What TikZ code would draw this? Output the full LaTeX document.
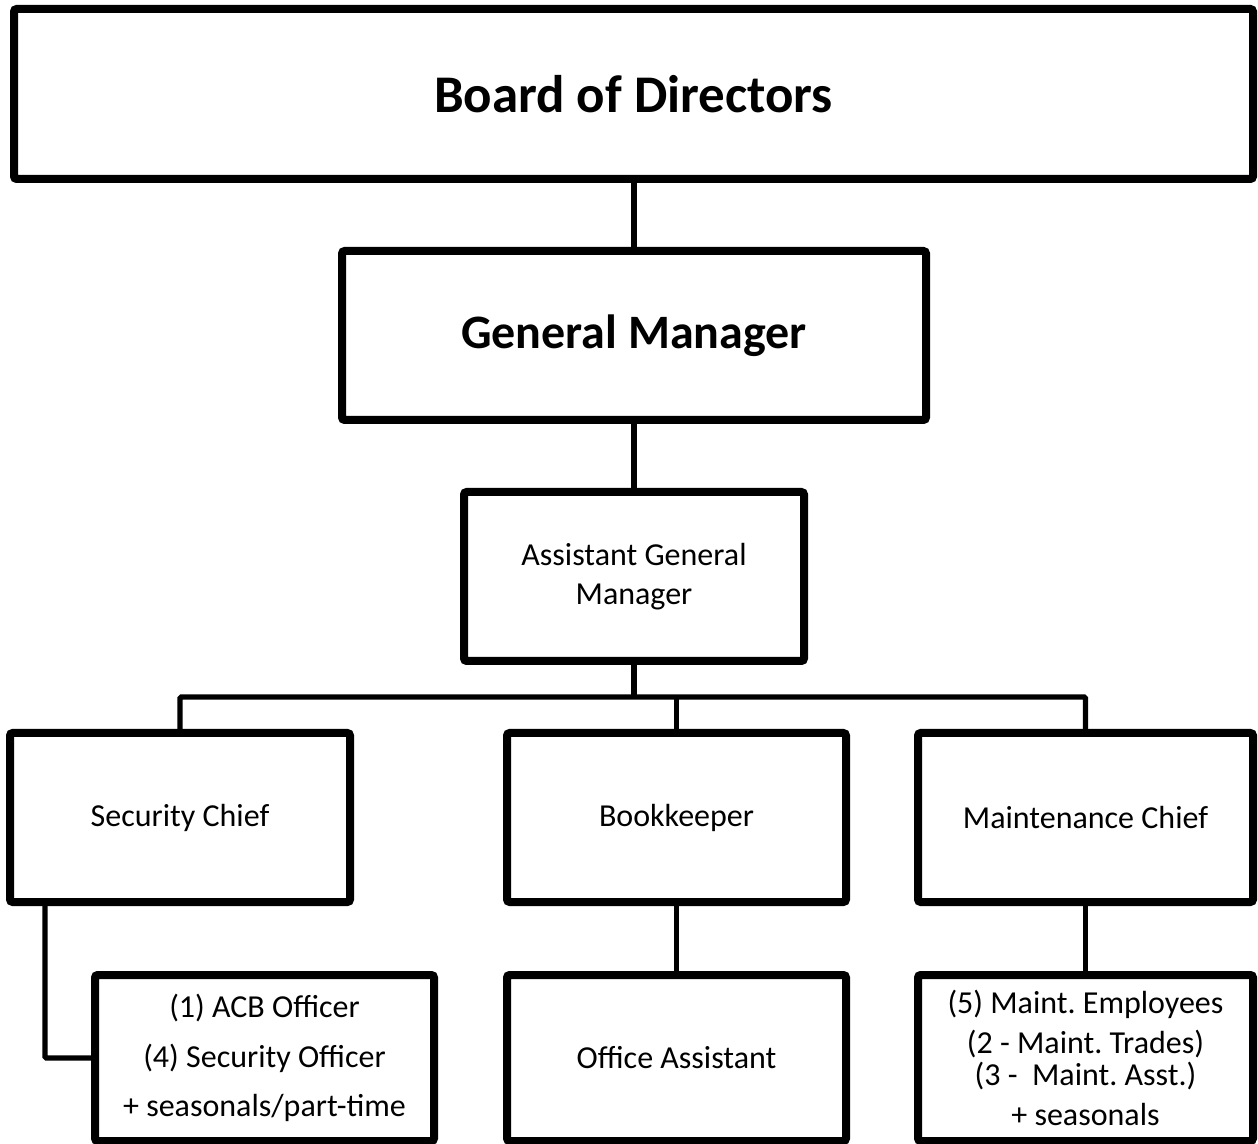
\documentclass[tikz,border=0pt]{standalone}
\usepackage{fontspec}
\setmainfont{Carlito}
\usetikzlibrary{shadows}
\frenchspacing
\tikzset{every picture/.style={line width=0.75pt}}
\tikzset{
  orgbox/.style={draw, line width=6pt, rounded corners=2pt, fill=white, align=center, inner sep=0pt,
    font=\fontsize{24}{29}\selectfont,
    drop shadow={shadow xshift=1pt, shadow yshift=-2.5pt, opacity=0.18}},
  link/.style={line width=4pt, rounded corners=1pt}
}

\begin{document}
\begin{tikzpicture}[x=0.75pt,y=0.75pt,yscale=-1,xscale=1]
\useasboundingbox (0,0) rectangle (1258,1144);

%Shape: Rectangle [id:board]
\node [orgbox, minimum width=929.25pt, minimum height=127.5pt, font=\bfseries\fontsize{39.7}{48}\selectfont] (bod) at (633.5,94) {Board of Directors};
%Shape: Rectangle [id:gm]
\node [orgbox, minimum width=438pt, minimum height=126.75pt, font=\bfseries\fontsize{36}{43}\selectfont] (gm) at (634,335.5) {General Manager};
%Shape: Rectangle [id:agm]
\node [orgbox, minimum width=255pt, minimum height=126.75pt] (agm) at (634,576.5) {Assistant General\\Manager};

%Shape: Rectangle [id:sec]
\node [orgbox, minimum width=255pt, minimum height=126.75pt] (sec) at (180,817.5) {Security Chief};
%Shape: Rectangle [id:book]
\node [orgbox, minimum width=254.25pt, minimum height=126.75pt] (book) at (676.5,817.5) {Bookkeeper};
%Shape: Rectangle [id:mc]
\node [orgbox, minimum width=251.25pt, minimum height=126.75pt] (mc) at (1085.5,817.5) {Maintenance Chief};

%Shape: Rectangle [id:acb]
\node [orgbox, minimum width=254.25pt, minimum height=124.5pt] (acb) at (264.5,1058) {(1) ACB Officer\\[8pt](4) Security Officer\\[8pt]+ seasonals/part-time};
%Shape: Rectangle [id:office]
\node [orgbox, minimum width=254.25pt, minimum height=124.5pt] (office) at (676.5,1058) {Office Assistant};
%Shape: Rectangle [id:maint]
\node [orgbox, minimum width=251.25pt, minimum height=124.5pt] (maint) at (1085.5,1058) {(5) Maint. Employees\\[1pt](2 - Maint. Trades)\\[-5pt](3 -\ \ Maint. Asst.)\\[1pt]+ seasonals};

%Straight Lines
\coordinate (bus) at (634,697);
\coordinate (sdrop) at (45,1059);
\draw [link] (gm.north |- bod.south) -- (gm.north);
\draw [link] (gm.south) -- (agm.north);
\draw [link] (agm.south) -- (bus);
\draw [link] (sec.north) |- (bus) -| (mc.north);
\draw [link] (book.north) -- (book.north |- bus);
\draw [link] (book.south) -- (office.north);
\draw [link] (mc.south) -- (maint.north);
\draw [link] (sec.south -| sdrop) |- (acb.west);
\end{tikzpicture}
\end{document}
